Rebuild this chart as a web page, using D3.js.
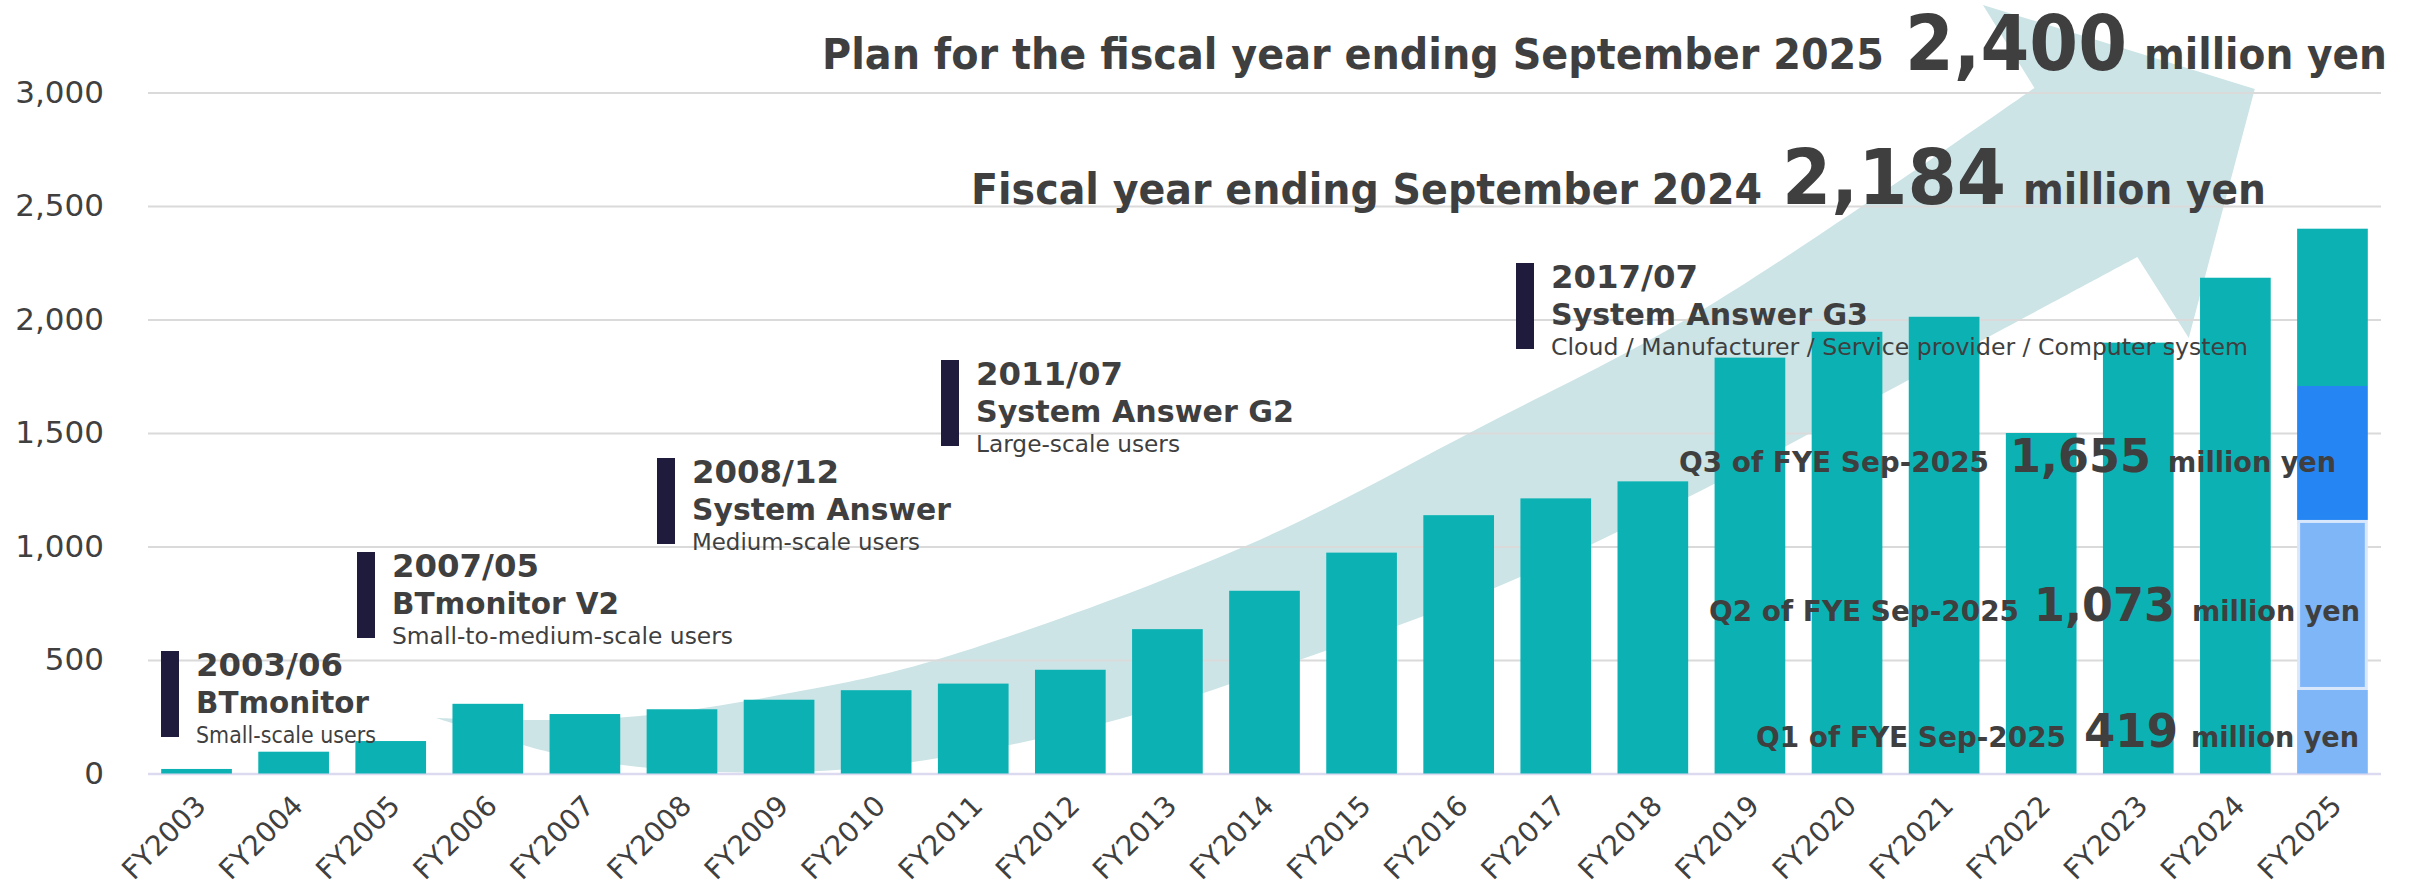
<!DOCTYPE html>
<html>
<head>
<meta charset="utf-8">
<script src="https://cdn.jsdelivr.net/npm/d3@7/dist/d3.min.js"></script>
<style>
  html, body { margin: 0; padding: 0; background: #fff; }
  svg { display: block; font-family: "DejaVu Sans", Verdana, sans-serif; }
</style>
</head>
<body>
<svg id="stage"></svg>
<script>
/* ---------- data ---------- */

const years = ["FY2003", "FY2004", "FY2005", "FY2006", "FY2007", "FY2008", "FY2009",
  "FY2010", "FY2011", "FY2012", "FY2013", "FY2014", "FY2015", "FY2016", "FY2017",
  "FY2018", "FY2019", "FY2020", "FY2021", "FY2022", "FY2023", "FY2024", "FY2025"];

// net sales, million yen (FY2025 is drawn as a stack below)
const sales = [20, 96, 143, 307, 262, 283, 325, 367, 396, 457, 636, 805, 973,
  1138, 1212, 1287, 1832, 1946, 2012, 1500, 1898, 2184, null];

// FY2025 stack segments as drawn: Q1, Q2, Q3, rest of plan
const fy2025_keys = ["q1", "q2", "q3", "rest"];
const fy2025_parts = [368, 749, 590, 693];

const plan_2025 = 2400;
const actual_2024 = 2184;

const quarter_names = ["Q1 of FYE Sep-2025", "Q2 of FYE Sep-2025", "Q3 of FYE Sep-2025"];
const quarter_totals = [419, 1073, 1655];

const y_ticks = [0, 500, 1000, 1500, 2000, 2500, 3000];

const milestone_dates = ["2003/06", "2007/05", "2008/12", "2011/07", "2017/07"];
const milestone_names = ["BTmonitor", "BTmonitor V2", "System Answer", "System Answer G2", "System Answer G3"];
const milestone_users = ["Small-scale users", "Small-to-medium-scale users", "Medium-scale users",
  "Large-scale users", "Cloud / Manufacturer / Service provider / Computer system"];

/* ---------- setup ---------- */

const width = 2417;
const height = 887;
const ink = "#3f3f3f";
const teal = "#0cb2b3";
const fmt = d3.format(",");

const svg = d3.select("#stage")
  .attr("width", width)
  .attr("height", height);

const x = d3.scaleBand()
  .domain(years)
  .range([148, 2381])
  .paddingInner(0.272)
  .paddingOuter(0.136);

const y = d3.scaleLinear()
  .domain([0, 3000])
  .range([773.5, 92.5]);

const arrow_layer = svg.append("g");
const grid_layer = svg.append("g");
const bar_layer = svg.append("g");
const text_layer = svg.append("g");

/* ---------- growth arrow (decor, in band steps / million yen) ---------- */

const arrow_upper = [[2.97, 244], [4.14, 236], [5.17, 258], [6.72, 363], [8.08, 496],
  [11.33, 1007], [13.69, 1518], [15.99, 2037], [19.43, 3020]];
const arrow_head = [[18.90, 3386], [21.70, 3015], [21.02, 1919]];
const arrow_lower = [[20.49, 2275], [18.23, 1756], [15.99, 1245], [13.87, 817],
  [11.86, 500], [9.97, 236], [8.08, 64], [6.72, 7], [5.17, 24], [4.13, 95], [2.97, 244]];

const ax = p => x.range()[0] + p * x.step();
const edge = d3.line()
  .x(d => ax(d[0]))
  .y(d => y(d[1]))
  .curve(d3.curveCatmullRom.alpha(0.5));

const arrow_d = edge(arrow_upper)
  + arrow_head.map(d => `L${ax(d[0])},${y(d[1])}`).join("")
  + edge(arrow_lower).replace(/^M/, "L") + "Z";

arrow_layer.append("path")
  .attr("d", arrow_d)
  .attr("fill", "#cce4e6");

/* ---------- axes ---------- */

const y_axis = grid_layer.append("g")
  .attr("transform", `translate(${x.range()[0]},0)`)
  .call(d3.axisLeft(y)
    .tickValues(y_ticks)
    .tickFormat(fmt)
    .tickSize(-(x.range()[1] - x.range()[0]))
    .tickPadding(44));

y_axis.select(".domain").remove();
y_axis.selectAll(".tick line")
  .attr("stroke", d => d === 0 ? "#dcdaf0" : "#dadada")
  .attr("stroke-width", d => d === 0 ? 2.5 : 2);
y_axis.selectAll(".tick text")
  .attr("font-size", 31)
  .attr("font-family", "DejaVu Sans, sans-serif")
  .attr("fill", "#404040");

const x_axis = grid_layer.append("g")
  .attr("transform", `translate(0,${y(0)})`)
  .call(d3.axisBottom(x).tickSize(0));

x_axis.select(".domain").remove();
x_axis.selectAll(".tick text")
  .attr("x", 0)
  .attr("y", 0)
  .attr("dy", 0)
  .attr("transform", "translate(11,34) rotate(-45)")
  .style("text-anchor", "end")
  .attr("font-size", 28)
  .attr("font-family", "DejaVu Sans, sans-serif")
  .attr("fill", "#404040");

/* ---------- bars ---------- */

const history = years.map((yr, i) => ({ yr, v: sales[i] })).filter(d => d.v != null);

bar_layer.selectAll("rect.hist")
  .data(history)
  .join("rect")
  .attr("class", "hist")
  .attr("x", d => x(d.yr))
  .attr("width", x.bandwidth())
  .attr("y", d => y(d.v))
  .attr("height", d => y(0) - y(d.v))
  .attr("fill", teal);

const row = {};
fy2025_keys.forEach((k, i) => row[k] = fy2025_parts[i]);
const stack = d3.stack().keys(fy2025_keys)([row]);
const seg_fill = { q1: "#7fb6f8", q2: "#7fb6f8", q3: "#2585f3", rest: teal };

bar_layer.selectAll("rect.plan")
  .data(stack)
  .join("rect")
  .attr("class", "plan")
  .attr("x", d => x("FY2025") + (d.key === "q2" ? 1.5 : 0))
  .attr("width", d => x.bandwidth() - (d.key === "q2" ? 3 : 0))
  .attr("y", d => y(d[0][1]) + (d.key === "q2" ? 1.5 : 0))
  .attr("height", d => y(d[0][0]) - y(d[0][1]) - (d.key === "q2" ? 3 : 0))
  .attr("fill", d => seg_fill[d.key])
  .attr("stroke", d => d.key === "q2" ? "#d8e7fb" : "none")
  .attr("stroke-width", 3);

/* ---------- text ---------- */

function put(str, px, py, size, weight, len) {
  const t = text_layer.append("text")
    .attr("x", px)
    .attr("y", py)
    .attr("font-size", size)
    .attr("font-weight", weight)
    .attr("fill", ink)
    .text(str);
  if (len) t.attr("textLength", len).attr("lengthAdjust", "spacingAndGlyphs");
  return t;
}

// headlines
put("Plan for the fiscal year ending September 2025", 822, 69, 42, "bold", 1062);
put(fmt(plan_2025), 1905, 70, 76, "bold", 222);
put("million yen", 2144, 69, 42, "bold", 243);

put("Fiscal year ending September 2024", 971, 204, 42, "bold", 791);
put(fmt(actual_2024), 1782, 204, 76, "bold", 224);
put("million yen", 2023, 204, 42, "bold", 243);

// quarter call-outs
const q_base = [747, 620.5, 471.7];
const q_label_x = [1756, 1709, 1679];
const q_num_x = [2084, 2034, 2010];
const q_num_len = [94, 141, 141];
const q_unit_x = [2191, 2192, 2168];

quarter_names.forEach((name, i) => {
  put(name, q_label_x[i], q_base[i], 28, "bold", 310);
  put(fmt(quarter_totals[i]), q_num_x[i], q_base[i], 46, "bold", q_num_len[i]);
  put("million yen", q_unit_x[i], q_base[i], 28, "bold", 168);
});

// product milestones
const ann_x = [161, 357, 657, 941, 1516];
const ann_top = [651, 552, 458, 360, 263];
const name_len = [173, 227, 259, 318, 317];
const users_len = [180, 341, 228, 204, 697];

milestone_dates.forEach((date, i) => {
  text_layer.append("rect")
    .attr("x", ann_x[i])
    .attr("y", ann_top[i])
    .attr("width", 18)
    .attr("height", 86)
    .attr("fill", "#1f1b3c");
  const tx = ann_x[i] + 35;
  put(date, tx, ann_top[i] + 25, 32, "bold", 147);
  put(milestone_names[i], tx, ann_top[i] + 62, 30, "bold", name_len[i]);
  put(milestone_users[i], tx, ann_top[i] + 92, 23, "normal", users_len[i]);
});
</script>
</body>
</html>
